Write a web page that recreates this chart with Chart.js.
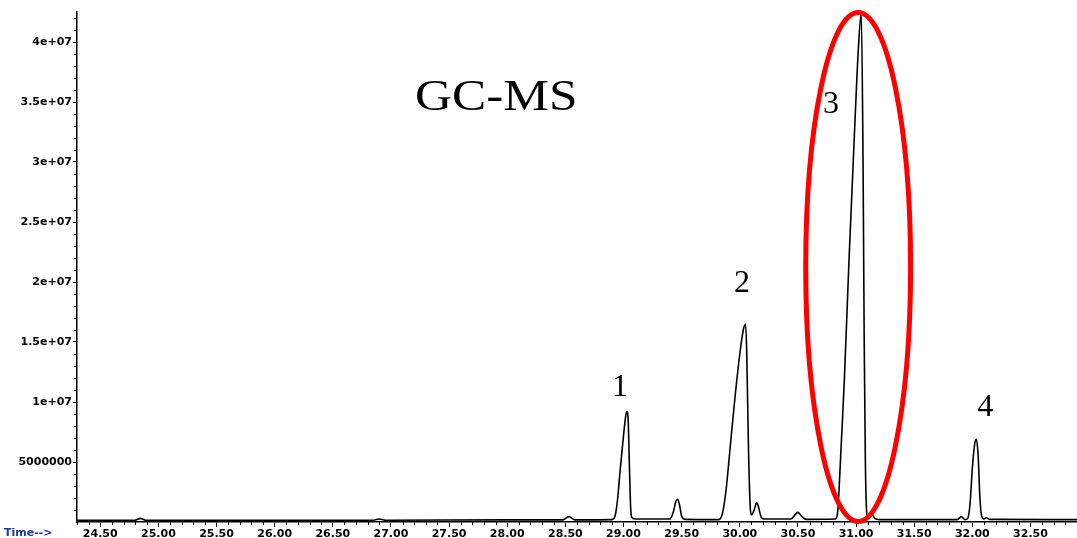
<!DOCTYPE html>
<html><head><meta charset="utf-8">
<script src="https://cdn.jsdelivr.net/npm/chart.js@4/dist/chart.umd.min.js"></script>
<style>html,body{margin:0;padding:0;background:#fff;overflow:hidden}#wrap{width:1077px;height:538px;position:relative}</style>
</head><body><div id="wrap"><canvas id="c" width="1077" height="538"></canvas></div>
<script>
// Retention time (min) of each point of the total ion chromatogram
const retentionTimes = [
  24.30, 24.80, 24.845, 24.89, 26.85, 26.90, 26.95, 28.00, 28.48, 28.53, 28.58,
  28.90, 28.93, 28.95, 28.97, 29.00, 29.02, 29.03, 29.04, 29.05, 29.06, 29.07, 29.10,
  29.40, 29.43, 29.45, 29.465, 29.48, 29.50, 29.53,
  29.82, 29.85, 29.88, 29.92, 29.96, 30.00, 30.03, 30.05, 30.06, 30.075, 30.09, 30.10,
  30.12, 30.145, 30.16, 30.18, 30.21,
  30.44, 30.48, 30.50, 30.53, 30.57,
  30.82, 30.84, 30.85, 30.87, 30.90, 30.94, 30.98, 31.02, 31.045, 31.06, 31.07, 31.08, 31.09, 31.10,
  31.135, 31.16, 31.20,
  31.87, 31.905, 31.935, 31.96, 31.98, 32.00, 32.02, 32.035, 32.05, 32.065, 32.08, 32.10,
  32.12, 32.15, 32.90
];
// Abundance (counts) at each retention time
const abundance = [
  150000, 150000, 300000, 150000, 150000, 250000, 150000, 180000, 180000, 450000, 180000,
  200000, 600000, 2000000, 4200000, 7200000, 8900000, 9200000, 8500000, 5000000, 1500000, 400000, 250000,
  250000, 900000, 1700000, 1900000, 1500000, 500000, 220000,
  200000, 700000, 2500000, 6500000, 10500000, 14000000, 16000000, 16500000, 14000000, 6000000, 1200000, 600000,
  900000, 1600000, 1300000, 500000, 250000,
  250000, 650000, 800000, 500000, 220000,
  250000, 700000, 2000000, 6000000, 12000000, 22000000, 31000000, 39500000, 42400000, 30000000, 15000000, 5000000, 1000000, 300000,
  700000, 300000, 200000,
  200000, 450000, 200000, 300000, 1500000, 4500000, 6500000, 6900000, 5500000, 2000000, 500000, 250000,
  350000, 220000, 200000
];
const xTickValues = [24.5, 25.0, 25.5, 26.0, 26.5, 27.0, 27.5, 28.0, 28.5, 29.0, 29.5, 30.0, 30.5, 31.0, 31.5, 32.0, 32.5];
const xTickLabels = ['24.50','25.00','25.50','26.00','26.50','27.00','27.50','28.00','28.50','29.00','29.50','30.00','30.50','31.00','31.50','32.00','32.50'];
const yTickValues = [5000000, 10000000, 15000000, 20000000, 25000000, 30000000, 35000000, 40000000];
const yTickLabels = ['5000000','1e+07','1.5e+07','2e+07','2.5e+07','3e+07','3.5e+07','4e+07'];
const peakNames = ['1', '2', '3', '4'];
const peakLabelTimes = [28.97, 30.02, 30.785, 32.11];
const peakLabelLevels = [11200000, 19900000, 34800000, 9500000];
const titleText = 'GC-MS';
const titleTime = 27.905, titleLevel = 35300000;
const axisCaption = 'Time-->';
// highlighted region around peak 3 (centre time, centre level, half-width in min, half-height in counts)
const ring = {t: 31.018, v: 21250000, dt: 0.451, dv: 21200000};

const points = retentionTimes.map((t, i) => ({x: t, y: abundance[i]}));
const tickFont = {family: '"DejaVu Sans", Verdana, sans-serif', weight: 'bold', size: 11};

const decor = {
  id: 'decor',
  afterDraw(chart) {
    const {ctx, scales: {x, y}} = chart;
    ctx.save();
    ctx.strokeStyle = '#000';
    ctx.lineWidth = 1;
    const yb = y.bottom;
    for (let i = Math.ceil(x.min * 10); i <= Math.floor(x.max * 10); i++) {
      const v = i / 10;
      if (Math.abs(v * 2 - Math.round(v * 2)) < 1e-6) continue;
      const px = Math.round(x.getPixelForValue(v)) + 0.5;
      ctx.beginPath(); ctx.moveTo(px, yb); ctx.lineTo(px, yb + 3); ctx.stroke();
    }
    for (let k = 1; k * 1e6 <= y.max; k++) {
      if (k % 5 === 0) continue;
      const py = Math.round(y.getPixelForValue(k * 1e6)) + 0.5;
      ctx.beginPath(); ctx.moveTo(x.left - 3, py); ctx.lineTo(x.left, py); ctx.stroke();
    }
    // caption
    ctx.fillStyle = '#1a3a9c';
    ctx.font = 'bold 11px "DejaVu Sans", Verdana, sans-serif';
    ctx.textBaseline = 'middle';
    ctx.textAlign = 'left';
    ctx.fillText(axisCaption, 4, 533);
    // title
    ctx.fillStyle = '#000';
    ctx.font = '45px "Liberation Serif", "Times New Roman", serif';
    ctx.textAlign = 'center';
    const tx = x.getPixelForValue(titleTime), ty = y.getPixelForValue(titleLevel);
    ctx.save(); ctx.translate(tx, ty); ctx.scale(1.14, 1); ctx.fillText(titleText, 0, 0); ctx.restore();
    // peak numbers
    ctx.font = '32px "Liberation Serif", "Times New Roman", serif';
    peakNames.forEach((n, i) => {
      ctx.fillText(n, x.getPixelForValue(peakLabelTimes[i]), y.getPixelForValue(peakLabelLevels[i]));
    });
    // red ring
    const cx = x.getPixelForValue(ring.t), cy = y.getPixelForValue(ring.v);
    const rx = x.getPixelForValue(ring.t + ring.dt) - cx;
    const ry = cy - y.getPixelForValue(ring.v + ring.dv);
    ctx.strokeStyle = '#ff0000';
    ctx.lineWidth = 5;
    ctx.beginPath(); ctx.ellipse(cx, cy, rx, ry, 0, 0, Math.PI * 2); ctx.stroke();
    ctx.restore();
  }
};

new Chart(document.getElementById('c'), {
  type: 'line',
  data: {datasets: [{data: points, borderColor: '#000', borderWidth: 1.6, pointRadius: 0,
    cubicInterpolationMode: 'monotone', fill: false}]},
  options: {
    responsive: false, animation: false, devicePixelRatio: 1,
    layout: {padding: {top: 12, left: 0, right: 0, bottom: 0}},
    plugins: {legend: {display: false}, tooltip: {enabled: false}},
    scales: {
      x: {
        type: 'linear', min: 24.30, max: 32.90,
        afterBuildTicks: s => { s.ticks = xTickValues.map(v => ({value: v})); },
        afterFit: s => { s.height = 16; },
        grid: {drawOnChartArea: false, drawTicks: true, tickLength: 5, color: '#000', lineWidth: 1},
        border: {display: true, color: '#000', width: 1.5},
        ticks: {autoSkip: false, maxRotation: 0, padding: 1, color: '#000', font: tickFont,
          callback: (v) => { const i = xTickValues.indexOf(v); return i >= 0 ? xTickLabels[i] : ''; }}
      },
      y: {
        type: 'linear', min: 0, max: 42500000,
        afterBuildTicks: s => { s.ticks = yTickValues.map(v => ({value: v})); },
        afterFit: s => { s.width = 77; },
        grid: {drawOnChartArea: false, drawTicks: true, tickLength: 4, color: '#000', lineWidth: 1},
        border: {display: true, color: '#000', width: 1.5},
        ticks: {autoSkip: false, padding: 1, color: '#000', font: tickFont,
          callback: (v) => { const i = yTickValues.indexOf(v); return i >= 0 ? yTickLabels[i] : ''; }}
      }
    }
  },
  plugins: [decor]
});
</script></body></html>
